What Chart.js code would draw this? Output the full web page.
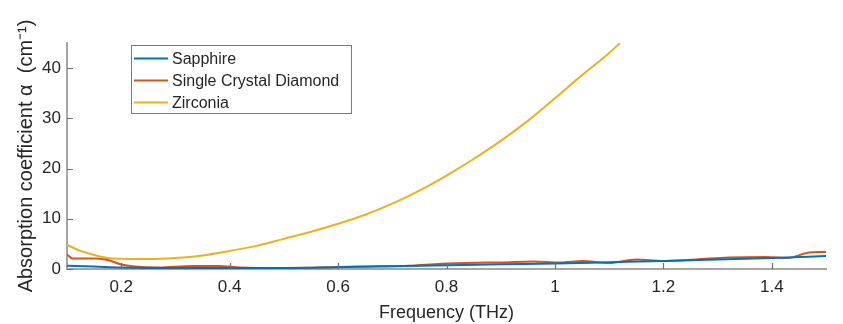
<!DOCTYPE html>
<html>
<head>
<meta charset="utf-8">
<script src="https://cdn.jsdelivr.net/npm/chart.js@4/dist/chart.umd.min.js"></script>
<style>
  html, body { margin: 0; padding: 0; background: #fff; }
  #wrap { width: 843px; height: 324px; }
</style>
</head>
<body>
<div id="wrap"><canvas id="absChart"></canvas></div>
<script>
// values (frequency in THz, alpha in cm^-1)
var sapphireFreq = [0.1, 0.15, 0.2, 0.3, 0.4, 0.5, 0.6, 0.7, 0.8, 0.9, 1.0, 1.1, 1.2, 1.3, 1.4, 1.5];
var sapphireAlpha = [0.65, 0.5, 0.3, 0.2, 0.2, 0.2, 0.35, 0.55, 0.75, 0.95, 1.1, 1.35, 1.6, 1.9, 2.2, 2.6];

var diamondFreq = [0.1, 0.11, 0.15, 0.175, 0.2, 0.225, 0.27, 0.33, 0.38, 0.42, 0.5, 0.55, 0.6, 0.65, 0.73, 0.79, 0.855, 0.9, 0.96, 1.01, 1.05, 1.1, 1.15, 1.2, 1.26, 1.32, 1.39, 1.43, 1.465, 1.5];
var diamondAlpha = [2.9, 2.1, 2.1, 1.8, 0.9, 0.5, 0.3, 0.6, 0.6, 0.3, 0.2, 0.25, 0.4, 0.5, 0.65, 1.05, 1.25, 1.3, 1.5, 1.3, 1.6, 1.2, 1.9, 1.6, 1.9, 2.3, 2.4, 2.2, 3.2, 3.4];

var zirconiaFreq = [0.1, 0.125, 0.15, 0.175, 0.2, 0.25, 0.3, 0.35, 0.4, 0.45, 0.5, 0.55, 0.6, 0.65, 0.7, 0.75, 0.8, 0.85, 0.9, 0.95, 1.0, 1.05, 1.1, 1.12];
var zirconiaAlpha = [4.8, 3.6, 2.8, 2.2, 2.05, 2.0, 2.2, 2.7, 3.6, 4.6, 6.0, 7.4, 9.0, 10.8, 13.0, 15.6, 18.6, 21.9, 25.5, 29.5, 34.0, 38.6, 43.0, 45.0];

var seriesNames = ['Sapphire', 'Single Crystal Diamond', 'Zirconia'];
var seriesColors = ['#0072BD', '#D95319', '#EDB120'];

// tick positions
var xTickValues = [0.2, 0.4, 0.6, 0.8, 1, 1.2, 1.4];
var yTickValues = [0, 10, 20, 30, 40];

function toPoints(xs, ys) {
    return xs.map(function (x, i) { return { x: x, y: ys[i] }; });
}

var textColor = '#262626';
var axisColor = '#a6a6a6';
var fontFamily = '"Liberation Sans", Arial, Helvetica, sans-serif';

// MATLAB style ticks pointing into the plot
var innerTicks = {
    id: 'innerTicks',
    afterDraw: function (chart) {
        var ctx = chart.ctx;
        var area = chart.chartArea;
        var xs = chart.scales.x, ys = chart.scales.y;
        ctx.save();
        ctx.strokeStyle = '#6e6e6e';
        ctx.lineWidth = 1.2;
        ctx.beginPath();
        xs.ticks.forEach(function (t) {
            var px = Math.round(xs.getPixelForValue(t.value)) + 0.5;
            ctx.moveTo(px, area.bottom);
            ctx.lineTo(px, area.bottom - 6);
        });
        ys.ticks.forEach(function (t) {
            var py = Math.round(ys.getPixelForValue(t.value)) + 0.5;
            ctx.moveTo(area.left, py);
            ctx.lineTo(area.left + 6, py);
        });
        ctx.stroke();
        ctx.restore();
    }
};

// boxed legend sitting inside the axes
var boxLegend = {
    id: 'boxLegend',
    afterDraw: function (chart) {
        var ctx = chart.ctx;
        var left = 131, top = 45, w = 220, h = 68;
        ctx.save();
        ctx.fillStyle = '#fff';
        ctx.fillRect(left, top, w, h);
        ctx.strokeStyle = '#7a7a7a';
        ctx.lineWidth = 1;
        ctx.strokeRect(left + 0.5, top + 0.5, w, h);
        ctx.font = '16px ' + fontFamily;
        ctx.textBaseline = 'middle';
        chart.data.datasets.forEach(function (ds, i) {
            var y = top + 13.5 + i * 22;
            ctx.strokeStyle = ds.borderColor;
            ctx.lineWidth = 2;
            ctx.beginPath();
            ctx.moveTo(left + 3, y);
            ctx.lineTo(left + 37, y);
            ctx.stroke();
            ctx.fillStyle = textColor;
            ctx.fillText(ds.label, left + 41, y + 1);
        });
        ctx.restore();
    }
};

var ctx = document.getElementById('absChart').getContext('2d');

new Chart(ctx, {
    type: 'line',
    data: {
        datasets: [
            { label: seriesNames[0], data: toPoints(sapphireFreq, sapphireAlpha), borderColor: seriesColors[0] },
            { label: seriesNames[1], data: toPoints(diamondFreq, diamondAlpha), borderColor: seriesColors[1] },
            { label: seriesNames[2], data: toPoints(zirconiaFreq, zirconiaAlpha), borderColor: seriesColors[2] }
        ]
    },
    options: {
        responsive: true,
        maintainAspectRatio: false,
        animation: false,
        events: [],
        layout: { padding: { top: 43, right: 17, left: 0, bottom: 0 } },
        elements: {
            point: { radius: 0 },
            line: { borderWidth: 2, tension: 0.4, cubicInterpolationMode: 'monotone' }
        },
        plugins: {
            legend: { display: false },
            tooltip: { enabled: false }
        },
        scales: {
            x: {
                type: 'linear',
                min: 0.1,
                max: 1.5,
                ticks: {
                    color: textColor,
                    padding: 8,
                    font: { family: fontFamily, size: 17 },
                    maxRotation: 0,
                    autoSkip: false,
                    callback: function (v) { return String(Math.round(v * 10) / 10); }
                },
                afterBuildTicks: function (scale) {
                    scale.ticks = xTickValues.map(function (v) { return { value: v }; });
                },
                afterFit: function (scale) { scale.height = 55; },
                grid: { display: false, drawTicks: false },
                border: { display: true, color: axisColor, width: 2 },
                title: {
                    display: true,
                    text: 'Frequency (THz)',
                    color: textColor,
                    font: { family: fontFamily, size: 18 },
                    padding: { top: 0, bottom: 0 }
                }
            },
            y: {
                min: 0,
                max: 45,
                ticks: {
                    color: textColor,
                    padding: 6,
                    autoSkip: false,
                    font: { family: fontFamily, size: 17 }
                },
                afterBuildTicks: function (scale) {
                    scale.ticks = yTickValues.map(function (v) { return { value: v }; });
                },
                afterFit: function (scale) { scale.width = 67; },
                grid: { display: false, drawTicks: false },
                border: { display: true, color: axisColor, width: 2 },
                title: {
                    display: true,
                    text: 'Absorption coefficient α  (cm⁻¹)',
                    color: textColor,
                    font: { family: fontFamily, size: 20 },
                    padding: { top: 14, bottom: 4 }
                }
            }
        }
    },
    plugins: [innerTicks, boxLegend]
});
</script>
</body>
</html>
